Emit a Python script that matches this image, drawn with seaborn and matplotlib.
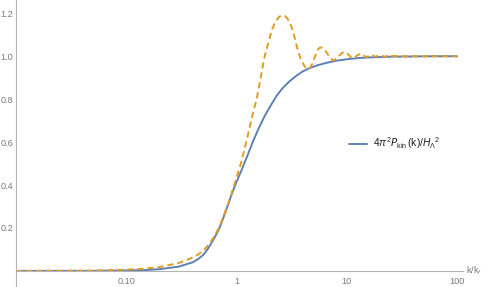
import numpy as np
import pandas as pd
import matplotlib
matplotlib.use("Agg")
import matplotlib.pyplot as plt
import matplotlib.ticker as mticker
import matplotlib.transforms as mtrans
import seaborn as sns

# ---- data ----
k_blue = [0.01, 0.05, 0.1, 0.15, 0.2, 0.3, 0.4, 0.45, 0.5, 0.55, 0.6, 0.65, 0.7,
          0.75, 0.8, 0.85, 0.9, 0.95, 1.0, 1.1, 1.25, 1.4, 1.6, 1.8, 2.0, 2.3,
          2.6, 3.0, 3.5, 4.0, 4.6, 5.5, 6.5, 8.0, 10.0, 13.0, 17.0, 25.0, 40.0,
          60.0, 100.0]
p_blue = [0.0, 0.0003, 0.002, 0.004, 0.008, 0.02, 0.04, 0.056, 0.075, 0.103,
          0.135, 0.167, 0.2, 0.24, 0.28, 0.318, 0.355, 0.386, 0.415, 0.465,
          0.535, 0.6, 0.668, 0.722, 0.763, 0.815, 0.85, 0.882, 0.91, 0.93,
          0.945, 0.959, 0.969, 0.979, 0.986, 0.992, 0.995, 0.998, 0.999, 1.0,
          1.0]

k_orange = [0.01, 0.05, 0.1, 0.15, 0.2, 0.3, 0.4, 0.45, 0.5, 0.55, 0.6, 0.65,
            0.7, 0.75, 0.8, 0.85, 0.9, 0.95, 1.0, 1.1, 1.25, 1.4, 1.52, 1.62,
            1.72, 1.8, 1.9, 2.08, 2.2, 2.3, 2.45, 2.62, 2.75, 2.9, 3.16, 3.35,
            3.58, 3.8, 4.06, 4.33, 4.6, 4.9, 5.15, 5.45, 5.7, 6.0, 6.3, 6.7,
            7.1, 7.6, 8.1, 8.6, 9.1, 9.6, 10.2, 10.9, 11.5, 12.5, 13.5, 15.0,
            16.5, 18.0, 20.0, 22.0, 24.0, 30.0, 50.0, 100.0]
p_orange = [0.0, 0.001, 0.006, 0.011, 0.018, 0.037, 0.062, 0.077, 0.095, 0.118,
            0.145, 0.175, 0.205, 0.245, 0.285, 0.322, 0.36, 0.398, 0.435, 0.505,
            0.62, 0.73, 0.8, 0.875, 0.95, 1.0, 1.045, 1.12, 1.15, 1.168, 1.185,
            1.19, 1.187, 1.175, 1.135, 1.09, 1.03, 0.99, 0.96, 0.94, 0.945,
            0.967, 1.0, 1.03, 1.04, 1.04, 1.03, 1.01, 0.99, 0.98, 0.99, 1.005,
            1.016, 1.02, 1.01, 0.995, 0.99, 1.005, 1.012, 0.995, 1.007, 0.998,
            1.005, 0.998, 1.003, 1.0, 1.0, 1.0]

x_ticks = [0.1, 1, 10, 100]
x_tick_labels = ["0.10", "1", "10", "100"]
y_ticks = [0.2, 0.4, 0.6, 0.8, 1.0, 1.2]
y_tick_labels = ["0.2", "0.4", "0.6", "0.8", "1.0", "1.2"]
legend_label = r"$4\pi^2\mathcal{P}_{\mathrm{kin}}\,(\mathrm{k})/H_{\Lambda}{}^2$"
x_label = r"k/k$_{f}$"

BLUE = "#5e81b5"
ORANGE = "#e19c24"
AX_COL = "#b4b4b4"
TXT_COL = "#7a7a7a"

sns.set_theme(style="white")
plt.rcParams["font.family"] = ["Liberation Sans", "DejaVu Sans"]
plt.rcParams["mathtext.fontset"] = "custom"
plt.rcParams["mathtext.rm"] = "Liberation Sans"
plt.rcParams["mathtext.it"] = "Liberation Sans:italic"
plt.rcParams["mathtext.cal"] = "DejaVu Sans:italic"

W, H = 491, 287
fig = plt.figure(figsize=(W / 100, H / 100), dpi=100)
ax = fig.add_axes([16 / W, 0.0, (463 - 16) / W, 1.0])

df_b = pd.DataFrame({"k": k_blue, "p": p_blue})
df_o = pd.DataFrame({"k": k_orange, "p": p_orange})

sns.lineplot(data=df_b, x="k", y="p", ax=ax, color=BLUE, lw=1.4,
             label=legend_label, sort=True, estimator=None)
sns.lineplot(data=df_o, x="k", y="p", ax=ax, color=ORANGE, lw=1.4,
             label="_nolegend_", sort=True, estimator=None)
ax.lines[-1].set_linestyle((0, (3.2, 2.0)))

ax.set_xscale("log")
ax.set_xlim(0.01, 113)
ax.set_ylim(-0.075, 1.262)

for s in ["top", "right"]:
    ax.spines[s].set_visible(False)
ax.spines["bottom"].set_position(("data", 0))
for s in ["bottom", "left"]:
    ax.spines[s].set_color(AX_COL)
    ax.spines[s].set_linewidth(0.8)

ax.xaxis.set_major_locator(mticker.FixedLocator(x_ticks))
ax.xaxis.set_major_formatter(mticker.FixedFormatter(x_tick_labels))
minors = [m * 10.0 ** e for e in range(-2, 3) for m in range(2, 10) if m * 10.0 ** e < 113]
ax.xaxis.set_minor_locator(mticker.FixedLocator(minors))
ax.xaxis.set_minor_formatter(mticker.NullFormatter())

ax.yaxis.set_major_locator(mticker.FixedLocator(y_ticks))
ax.yaxis.set_major_formatter(mticker.FixedFormatter(y_tick_labels))
ax.yaxis.set_minor_locator(mticker.FixedLocator(
    [v / 20 for v in range(-1, 25) if v % 4 != 0]))

ax.tick_params(axis="both", which="major", direction="in", length=3.5,
               width=0.7, color=AX_COL, labelcolor=TXT_COL, labelsize=6.6)
ax.tick_params(axis="both", which="minor", direction="in", length=2.0,
               width=0.6, color=AX_COL)
ax.tick_params(axis="x", which="major", pad=4.5)
ax.tick_params(axis="y", which="major", pad=2.0)
ax.set_xlabel("")
ax.set_ylabel("")

tr = mtrans.blended_transform_factory(ax.transAxes, ax.transData)
ax.text(1.006, 0.0, x_label, transform=tr, ha="left", va="center",
        fontsize=6.6, color=TXT_COL, clip_on=False)

leg = ax.legend(loc="center left", bbox_to_anchor=(0.725, 0.5), frameon=False,
                fontsize=7.4, handlelength=1.7, handletextpad=0.6)
for t in leg.get_texts():
    t.set_color("#222222")

fig.savefig("out.png", dpi=100)
